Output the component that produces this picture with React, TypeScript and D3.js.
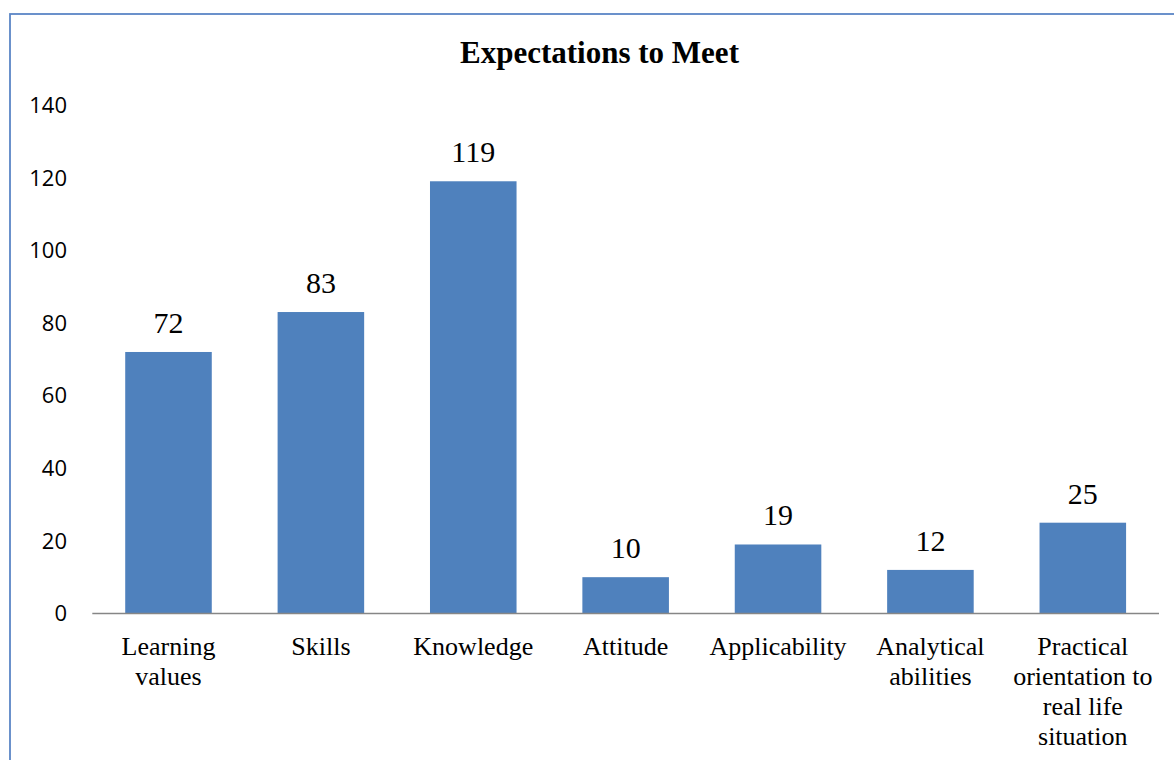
import React from "react";
import * as d3 from "d3";

const categories: string[][] = [
  ["Learning", "values"],
  ["Skills"],
  ["Knowledge"],
  ["Attitude"],
  ["Applicability"],
  ["Analytical", "abilities"],
  ["Practical", "orientation to", "real life", "situation"],
];
const values: number[] = [72, 83, 119, 10, 19, 12, 25];
const yTicks: number[] = [0, 20, 40, 60, 80, 100, 120, 140];
const title = "Expectations to Meet";

const W = 1174;
const H = 760;
const plotLeft = 92.3;
const plotRight = 1159;
const plotTop = 105;
const plotBottom = 613.5;

export default function App() {
  const keys = categories.map((_, i) => String(i));
  const x = d3.scaleBand<string>().domain(keys).range([plotLeft, plotRight]).padding(0);
  const y = d3.scaleLinear().domain([0, 140]).range([plotBottom, plotTop]);
  const barW = x.bandwidth() * 0.568;
  const serif = "'Liberation Serif', 'Times New Roman', serif";

  return (
    <svg
      width={W}
      height={H}
      style={{ position: "fixed", left: 0, top: 0, background: "#fff" }}
    >
      <rect x={10} y={14} width={W + 20} height={H + 20} fill="#fff" stroke="#5b86c6" strokeWidth={1.8} />
      <text
        x={599.5}
        y={63.3}
        textAnchor="middle"
        fontFamily={serif}
        fontWeight="bold"
        fontSize={31}
        fill="#000"
      >
        {title}
      </text>
      {yTicks.map((t) => (
        <text
          key={t}
          x={67}
          y={y(t)}
          dy="0.36em"
          textAnchor="end"
          fontFamily="'Open Sans', sans-serif"
          fontSize={22}
          fill="#000"
        >
          {t}
        </text>
      ))}
      {values.map((v, i) => {
        const cx = (x(String(i)) as number) + x.bandwidth() / 2;
        return (
          <g key={i}>
            <rect x={cx - barW / 2} y={y(v)} width={barW} height={y(0) - y(v)} fill="#4f81bd" />
            <text
              x={cx}
              y={y(v) - 19}
              textAnchor="middle"
              fontFamily={serif}
              fontSize={30}
              fill="#000"
            >
              {v}
            </text>
            <text textAnchor="middle" fontFamily={serif} fontSize={26} fill="#000">
              {categories[i].map((line, j) => (
                <tspan key={j} x={cx} y={654.5 + j * 30}>
                  {line}
                </tspan>
              ))}
            </text>
          </g>
        );
      })}
      <line x1={plotLeft} x2={plotRight} y1={plotBottom} y2={plotBottom} stroke="#868686" strokeWidth={1.5} />
    </svg>
  );
}
